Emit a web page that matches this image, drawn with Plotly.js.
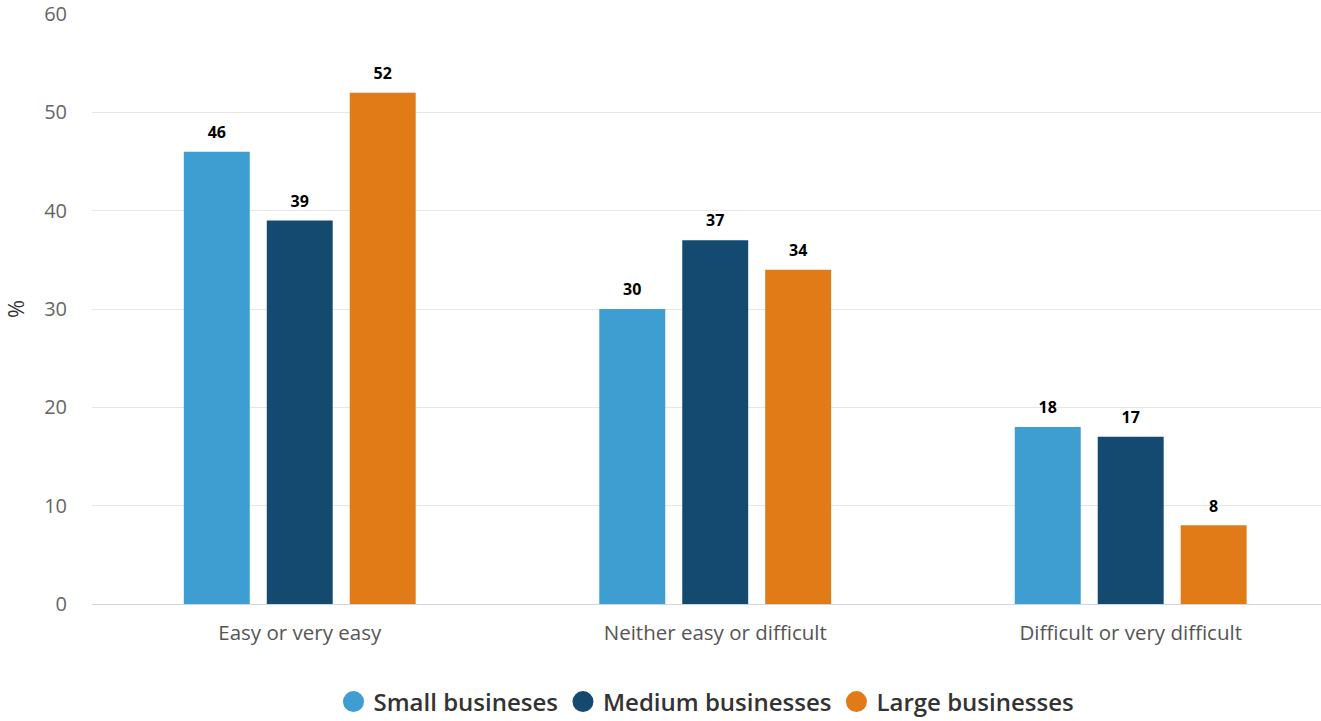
<!DOCTYPE html>
<html>
<head>
<meta charset="utf-8">
<script src="https://cdn.plot.ly/plotly-3.0.1.min.js"></script>
<style>html,body{margin:0;padding:0;background:#fff;}#chart{width:1321px;height:721px;}</style>
</head>
<body>
<div id="chart"></div>
<script>
var categories = ["Easy or very easy", "Neither easy or difficult", "Difficult or very difficult"];
var seriesNames = ["Small busineses", "Medium businesses", "Large businesses"];
var smallValues = [46, 30, 18];
var mediumValues = [39, 37, 17];
var largeValues = [52, 34, 8];
var seriesColors = ["#3e9dd1", "#154a70", "#e07b17"];
var yTicks = [0, 10, 20, 30, 40, 50, 60];

var allValues = [smallValues, mediumValues, largeValues];
var groupIds = ["small", "medium", "large"];
var traces = [];
allValues.forEach(function (vals, i) {
  traces.push({
    type: "bar",
    x: categories,
    y: vals,
    name: seriesNames[i],
    offsetgroup: groupIds[i],
    marker: {color: seriesColors[i]},
    showlegend: false,
    hoverinfo: "x+y+name"
  });
});
// value labels, grouped like the bars
allValues.forEach(function (vals, i) {
  traces.push({
    type: "scatter",
    mode: "markers+text",
    x: categories,
    y: vals,
    offsetgroup: groupIds[i],
    name: seriesNames[i],
    text: vals.map(String),
    textposition: "top center",
    textfont: {family: "Open Sans, sans-serif", size: 16, color: "#000", weight: 700},
    marker: {size: 14, opacity: 0, color: seriesColors[i]},
    cliponaxis: false,
    showlegend: false,
    hoverinfo: "skip"
  });
});
// legend-only circle markers
allValues.forEach(function (vals, i) {
  traces.push({
    type: "scatter",
    mode: "markers",
    x: [null],
    y: [null],
    name: seriesNames[i],
    marker: {color: seriesColors[i], size: 16, symbol: "circle", line: {color: seriesColors[i], width: 5}},
    showlegend: true,
    hoverinfo: "skip"
  });
});

var layout = {
  width: 1321,
  height: 721,
  margin: {l: 92, r: 0, t: 14, b: 117, autoexpand: false},
  paper_bgcolor: "#fff",
  plot_bgcolor: "#fff",
  barmode: "group",
  bargap: 0.401,
  bargroupgap: 0.205,
  scattermode: "group",
  scattergap: 0.401,
  font: {family: "Open Sans, sans-serif", color: "#555"},
  xaxis: {
    type: "category",
    range: [-0.5, 2.458],
    automargin: false,
    showgrid: false,
    showline: true,
    linecolor: "#ccd6eb",
    linewidth: 1,
    ticks: "",
    tickfont: {size: 20.5, color: "#555"},
    ticklabelstandoff: 10,
    fixedrange: true
  },
  yaxis: {
    range: [0, 60],
    tickvals: yTicks,
    automargin: false,
    showgrid: true,
    gridcolor: "#e6e6e6",
    gridwidth: 1,
    zeroline: false,
    showline: false,
    ticks: "",
    tickfont: {size: 20, color: "#666"},
    ticklabelstandoff: 24,
    title: {text: "%", font: {size: 22, color: "#333"}, standoff: 16},
    fixedrange: true
  },
  legend: {
    orientation: "h",
    x: 0.5,
    xanchor: "center",
    y: -0.128,
    yanchor: "top",
    font: {size: 24, color: "#333", weight: 600},
    itemclick: false,
    itemdoubleclick: false,
    tracegroupgap: 0
  },
  showlegend: true
};

Plotly.newPlot("chart", traces, layout, {displayModeBar: false});
</script>
</body>
</html>
